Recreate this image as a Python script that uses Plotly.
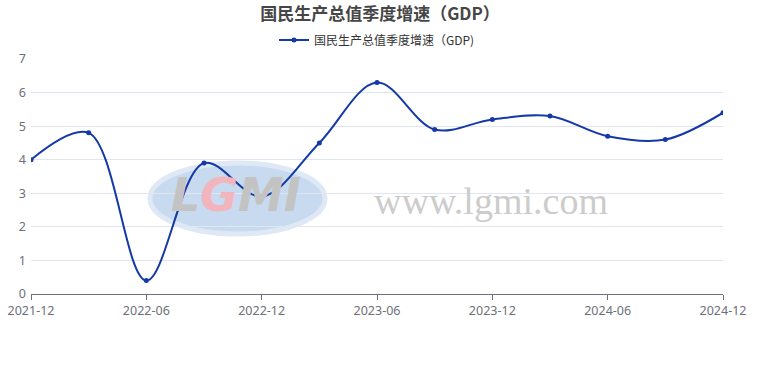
import plotly.graph_objects as go

categories = ["2021-12", "2022-03", "2022-06", "2022-09", "2022-12", "2023-03", "2023-06",
              "2023-09", "2023-12", "2024-03", "2024-06", "2024-09", "2024-12"]
gdp_growth = [4.0, 4.8, 0.4, 3.9, 2.9, 4.5, 6.3, 4.9, 5.2, 5.3, 4.7, 4.6, 5.4]
tick_labels = categories[::2]
series_name = "国民生产总值季度增速（GDP)"
title_text = "国民生产总值季度增速（GDP）"

font_family = "Noto Sans, Noto Sans CJK SC, sans-serif"
line_color = "#1539a6"

fig = go.Figure()
fig.add_trace(go.Scatter(
    x=categories, y=gdp_growth, mode="lines+markers", name=series_name,
    line=dict(color=line_color, width=2, shape="spline", smoothing=1.0),
    marker=dict(size=5, color=line_color),
))

# watermark
fig.add_shape(type="circle", xref="paper", yref="paper", layer="between",
              x0=(150 - 31) / 692, x1=(325 - 31) / 692,
              y0=(294 - 234) / 235, y1=(294 - 163) / 235,
              fillcolor="rgba(190,212,236,0.85)", line=dict(color="rgba(222,233,245,1)", width=5))
fig.add_annotation(xref="paper", yref="paper", x=(236 - 31) / 692, y=(294 - 195) / 235,
                   text="<b><i><span style='color:#c3c3c3'>L</span><span style='color:#f3b5bd'>G</span>"
                        "<span style='color:#c3c3c3'>MI</span></i></b>",
                   showarrow=False, font=dict(family="DejaVu Sans", size=46, color="#c3c3c3"),
                   xanchor="center", yanchor="middle")
fig.add_annotation(xref="paper", yref="paper", x=(491 - 31) / 692, y=(294 - 201) / 235,
                   text="www.lgmi.com", showarrow=False,
                   font=dict(family="Liberation Serif, DejaVu Serif, serif", size=38, color="#cccccc"),
                   xanchor="center", yanchor="middle")

fig.update_layout(
    width=760, height=370,
    margin=dict(l=31, r=37, t=59, b=76, autoexpand=False),
    paper_bgcolor="white", plot_bgcolor="white",
    font=dict(family=font_family, color="#6e7079", size=12),
    title=dict(text="<b>" + title_text + "</b>", x=0.5, xanchor="center", y=1 - 14 / 370, yanchor="middle",
               font=dict(family="Noto Sans CJK SC, sans-serif", size=17, color="#464646")),
    showlegend=True,
    legend=dict(orientation="h", x=0.5, xanchor="center", y=1 - 40 / 370, yref="container", yanchor="middle",
                font=dict(family="Noto Sans CJK SC, sans-serif", size=12, color="#333333"),
                bgcolor="rgba(0,0,0,0)"),
    xaxis=dict(type="category", range=[0, len(categories) - 1], tickmode="array",
               tickvals=tick_labels, ticktext=tick_labels, showgrid=False,
               showline=True, linecolor="#6e7079", linewidth=1, ticks="outside", ticklen=5,
               tickcolor="#6e7079", tickfont=dict(size=12.5, color="#6e7079")),
    yaxis=dict(range=[0, 7], dtick=1, showgrid=True, gridcolor="#e0e6f1", gridwidth=1,
               zeroline=False, showline=False, ticks="", ticklabelstandoff=4,
               tickfont=dict(size=12.5, color="#6e7079")),
)

fig.write_html("out.html")
